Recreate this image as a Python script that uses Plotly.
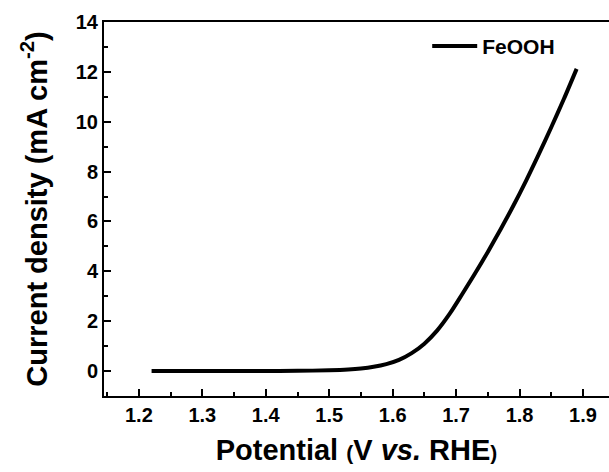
import plotly.graph_objects as go

potential = [1.22, 1.30, 1.40, 1.45, 1.50, 1.53, 1.55, 1.57, 1.59, 1.61, 1.63, 1.65,
             1.67, 1.69, 1.71, 1.73, 1.75, 1.77, 1.79, 1.81, 1.83, 1.85, 1.87, 1.89]
current = [0.0, 0.0, 0.0, 0.01, 0.03, 0.06, 0.10, 0.17, 0.28, 0.45, 0.72, 1.10,
           1.62, 2.30, 3.10, 3.92, 4.78, 5.68, 6.62, 7.62, 8.68, 9.78, 10.92, 12.12]
series_name = "FeOOH"
x_ticks = [1.2, 1.3, 1.4, 1.5, 1.6, 1.7, 1.8, 1.9]
y_ticks = [0, 2, 4, 6, 8, 10, 12, 14]

FONT = "Liberation Sans, Arial, sans-serif"

fig = go.Figure()
fig.add_trace(go.Scatter(x=potential, y=current, mode="lines", name=series_name,
                         line=dict(color="black", width=4, shape="spline", smoothing=0.8)))

fig.update_layout(
    width=609, height=472,
    margin=dict(l=104, r=0, t=22, b=76, autoexpand=False),
    paper_bgcolor="white", plot_bgcolor="white",
    font=dict(family=FONT, color="black"),
    showlegend=True,
    legend=dict(x=0.64, y=0.99, xanchor="left", yanchor="top", itemwidth=45,
                bgcolor="rgba(0,0,0,0)",
                font=dict(family=FONT, size=21, weight="bold", color="black")),
)

fig.update_xaxes(
    range=[1.145, 1.941], tickvals=x_ticks, ticktext=[f"{v:.1f}" for v in x_ticks],
    automargin=False,
    showline=True, linecolor="black", linewidth=2, mirror=True,
    ticks="inside", ticklen=7, tickwidth=2, tickcolor="black",
    minor=dict(dtick=0.05, ticks="inside", ticklen=4, tickwidth=2, tickcolor="black", showgrid=False),
    showgrid=False, zeroline=False,
    tickfont=dict(family=FONT, size=20, weight="bold"),
    title=dict(text="Potential <span style='font-size:21px'>(</span>V <i>vs.</i> RHE<span style='font-size:21px'>)</span>",
               font=dict(family=FONT, size=29, weight="bold"), standoff=15),
)
fig.update_yaxes(
    range=[-1, 14], tickvals=y_ticks,
    automargin=False,
    showline=True, linecolor="black", linewidth=2, mirror=False,
    ticks="inside", ticklen=7, tickwidth=2, tickcolor="black",
    minor=dict(dtick=1, ticks="inside", ticklen=4, tickwidth=2, tickcolor="black", showgrid=False),
    showgrid=False, zeroline=False,
    tickfont=dict(family=FONT, size=20, weight="bold"),
    title=dict(text="Current density (mA cm<sup>-2</sup>)",
               font=dict(family=FONT, size=29, weight="bold"), standoff=20),
)

fig.write_html("out.html", config={"displayModeBar": False},
               post_script="document.body.style.margin='0';document.body.style.overflow='hidden';")
